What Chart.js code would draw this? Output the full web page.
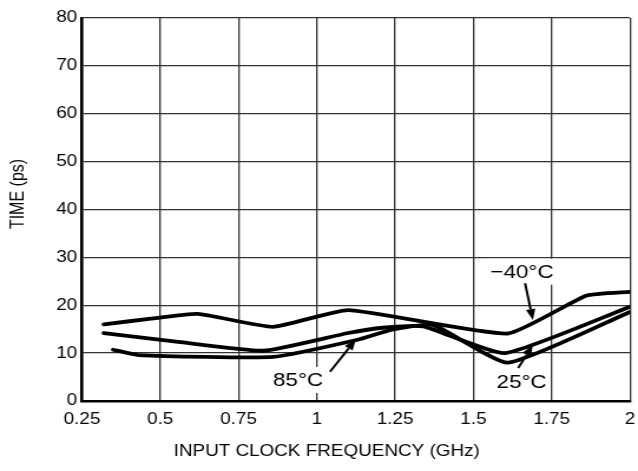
<!DOCTYPE html>
<html>
<head>
<meta charset="utf-8">
<script src="https://cdn.jsdelivr.net/npm/chart.js@4/dist/chart.umd.min.js"></script>
<style>
  html, body { margin: 0; padding: 0; background: #fff; }
</style>
</head>
<body>
<canvas id="chart" width="541" height="471" style="display:block;width:638px;height:471px"></canvas>
<script>
// -40°C curve
const coldX = [0.32, 0.47, 0.62, 0.86, 1.10, 1.61, 1.86, 2.0];
const coldY = [16.0, 17.2, 18.2, 15.5, 19.0, 14.1, 22.0, 22.8];
// 25°C curve
const roomX = [0.32, 0.55, 0.83, 1.10, 1.21, 1.34, 1.60, 2.0];
const roomY = [14.2, 12.4, 10.5, 14.2, 15.3, 15.6, 10.0, 19.7];
// 85°C curve
const hotX = [0.35, 0.43, 0.86, 1.13, 1.24, 1.37, 1.61, 2.0];
const hotY = [10.7, 9.6, 9.2, 12.8, 14.9, 15.9, 8.0, 18.6];

const xTickLabels = ['0.25', '0.5', '0.75', '1', '1.25', '1.5', '1.75', '2'];
const yTickLabels = ['0', '10', '20', '30', '40', '50', '60', '70', '80'];

// label text, text centre, arrow tail, arrow tip (data units)
const notes = [
    { text: '\u221240\u00b0C', at: [1.655, 27.0], from: [1.665, 24.6], to: [1.690, 16.9] },
    { text: '85\u00b0C', at: [0.94, 4.4], from: [1.042, 6.1], to: [1.125, 12.9] },
    { text: '25\u00b0C', at: [1.654, 4.1], from: [1.643, 6.9], to: [1.690, 11.7] }
];

const FONT = '"Liberation Sans", Arial, Helvetica, sans-serif';

const toPoints = (xs, ys) => xs.map((x, i) => ({ x: x, y: ys[i] }));

const lineStyle = {
    borderColor: '#000',
    borderWidth: 3.8,
    pointRadius: 0,
    tension: 0.15,
    borderCapStyle: 'round',
    borderJoinStyle: 'round',
    fill: false
};

const notesPlugin = {
    id: 'notes',
    afterDatasetsDraw(chart) {
        const { ctx, scales: { x, y } } = chart;
        ctx.save();
        ctx.font = '19px ' + FONT;
        ctx.textAlign = 'center';
        ctx.textBaseline = 'middle';
        notes.forEach(n => {
            const cx = x.getPixelForValue(n.at[0]);
            const cy = y.getPixelForValue(n.at[1]);
            const w = ctx.measureText(n.text).width;
            ctx.fillStyle = '#fff';
            ctx.fillRect(cx - w / 2 - 3, cy - 13, w + 6, 26);
            ctx.fillStyle = '#000';
            ctx.fillText(n.text, cx, cy + 1);

            const x1 = x.getPixelForValue(n.from[0]);
            const y1 = y.getPixelForValue(n.from[1]);
            const x2 = x.getPixelForValue(n.to[0]);
            const y2 = y.getPixelForValue(n.to[1]);
            const ang = Math.atan2(y2 - y1, x2 - x1);
            const len = 11, half = 4;
            const bx = x2 - Math.cos(ang) * len;
            const by = y2 - Math.sin(ang) * len;
            ctx.strokeStyle = '#000';
            ctx.lineWidth = 2;
            ctx.beginPath();
            ctx.moveTo(x1, y1);
            ctx.lineTo(bx, by);
            ctx.stroke();
            ctx.beginPath();
            ctx.moveTo(x2, y2);
            ctx.lineTo(bx + Math.sin(ang) * half, by - Math.cos(ang) * half);
            ctx.lineTo(bx - Math.sin(ang) * half, by + Math.cos(ang) * half);
            ctx.closePath();
            ctx.fill();
        });
        ctx.restore();
    }
};

const titlesPlugin = {
    id: 'titles',
    afterDraw(chart) {
        const ctx = chart.ctx;
        ctx.save();
        ctx.fillStyle = '#000';
        ctx.font = '16px ' + FONT;
        ctx.textAlign = 'center';
        ctx.textBaseline = 'middle';
        ctx.fillText('INPUT CLOCK FREQUENCY (GHz)', 277, 452);
        ctx.translate(16, 194);
        ctx.rotate(-Math.PI / 2);
        ctx.fillText('TIME (ps)', 0, 0);
        ctx.restore();
    }
};

new Chart(document.getElementById('chart'), {
    type: 'line',
    data: {
        datasets: [
            Object.assign({ label: '-40°C', data: toPoints(coldX, coldY) }, lineStyle),
            Object.assign({ label: '25°C', data: toPoints(roomX, roomY) }, lineStyle),
            Object.assign({ label: '85°C', data: toPoints(hotX, hotY) }, lineStyle)
        ]
    },
    options: {
        responsive: false,
        devicePixelRatio: 1,
        animation: false,
        layout: { padding: { top: 18, right: 6.8, bottom: 0, left: 0 } },
        plugins: {
            legend: { display: false },
            tooltip: { enabled: false }
        },
        scales: {
            x: {
                type: 'linear',
                min: 0.25,
                max: 2,
                afterFit: s => { s.height = 70; s.paddingLeft = 0; s.paddingRight = 0; },
                ticks: {
                    stepSize: 0.25,
                    padding: 9,
                    color: '#000',
                    font: { family: FONT, size: 16 },
                    maxRotation: 0,
                    callback: (v, i) => xTickLabels[i]
                },
                grid: { color: '#333', lineWidth: 1.3, drawTicks: false },
                border: { color: '#000', width: 2.5 }
            },
            y: {
                min: 0,
                max: 80,
                afterFit: s => { s.width = 69.5; },
                ticks: {
                    stepSize: 10,
                    padding: 4,
                    color: '#000',
                    font: { family: FONT, size: 16 },
                    callback: (v, i) => yTickLabels[i]
                },
                grid: { color: '#333', lineWidth: 1.3, drawTicks: false },
                border: { color: '#000', width: 2.5 }
            }
        }
    },
    plugins: [notesPlugin, titlesPlugin]
});
</script>
</body>
</html>
